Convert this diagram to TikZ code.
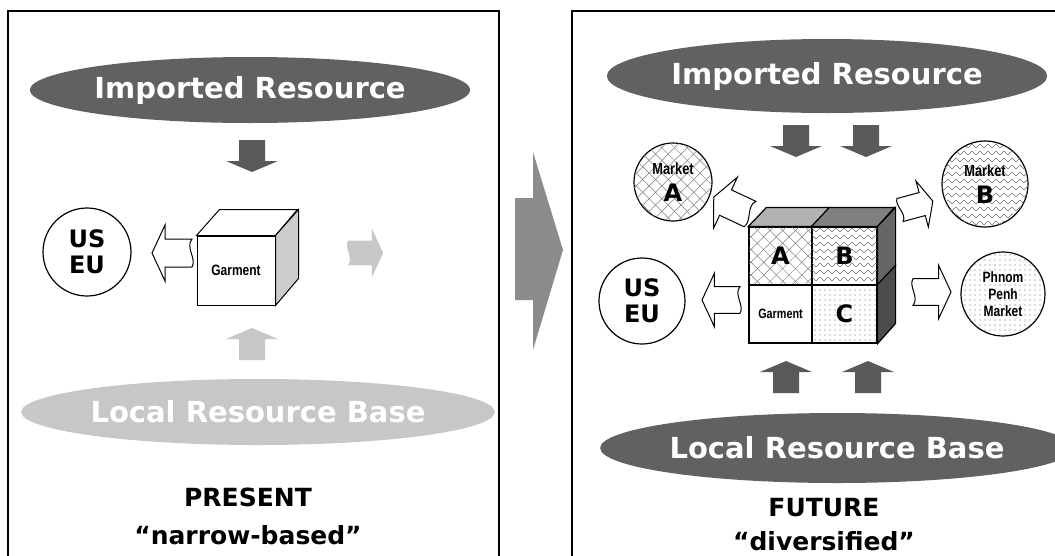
\documentclass[tikz,border=0pt]{standalone}
\usepackage{fontspec}
\setmainfont{DejaVu Sans}
\newfontfamily\condfont[FakeStretch=0.8]{Liberation Sans}
\usepackage{tikz}
\usetikzlibrary{positioning,shapes.geometric,patterns,patterns.meta}

\pgfdeclarepatternformonly{zigzag}{\pgfpoint{-1pt}{-1pt}}{\pgfpoint{9pt}{8pt}}{\pgfpoint{8pt}{7pt}}{
	\pgfsetlinewidth{0.6pt}
	\pgfpathmoveto{\pgfpoint{0pt}{1pt}}
	\pgfpathlineto{\pgfpoint{4pt}{5pt}}
	\pgfpathlineto{\pgfpoint{8pt}{1pt}}
	\pgfusepath{stroke}}

\begin{document}
\begin{tikzpicture}[%
	x=1pt, y=-1pt,
	node distance=38pt,
	panel/.style={line width=1.6pt},
	resource/.style={ellipse, fill=black!62, text=white, inner sep=0pt,
		font=\bfseries\fontsize{29}{31}\selectfont},
	faded/.style={fill=black!22},
	market/.style={circle, draw, line width=1.2pt, inner sep=0pt, align=center},
	bigtext/.style={font=\bfseries\fontsize{24}{26}\selectfont},
	smalltext/.style={font=\condfont\bfseries\fontsize{15}{17}\selectfont},
	caption/.style={font=\bfseries\fontsize{25}{27}\selectfont},
	cell/.style={draw, line width=1.2pt, inner sep=0pt, minimum width=63pt, minimum height=58pt},
	diamonds/.style={postaction={pattern={Lines[angle=45,distance=9pt,line width=.5pt]}, pattern color=black!50},
		postaction={pattern={Lines[angle=-45,distance=9pt,line width=.5pt]}, pattern color=black!50}},
	zigzags/.style={postaction={pattern=zigzag, pattern color=black!55}},
	speckled/.style={postaction={pattern={Dots[distance=5pt,radius=.7pt]}, pattern color=black!60}},
	blockarrow/.pic={\path[pic actions] (0,-13) -- (21,-13) -- (21,-26) -- (32,0) -- (21,26) -- (21,13) -- (0,13) -- cycle;},
	notcharrow/.pic={\path[pic actions] (0,-14) -- (27,-14) -- (27,-28) -- (40,0) -- (27,28) -- (27,14) -- (0,14)
		.. controls (7,6) and (-5,-6) .. (0,-14) -- cycle;}
	]
	\useasboundingbox (0,0) rectangle (1055,555);
	
	% the two panels
	\draw[panel] (8,556) -- (8,11) -- (499,11) -- (499,556);
	\draw[panel] (572,556) -- (572,11) -- (1060,11);
	
	% present
	\node[resource, minimum width=395pt, minimum height=66pt] (importL) at (250,90) {Imported Resource};
	\pic[fill=black!65, rotate=-90] at (252,140) {blockarrow};
	
	\node[market, minimum size=88pt, bigtext] (useuL) at (87,252) {US\\EU};
	\node[draw, line width=1pt, minimum width=78pt, minimum height=69pt, inner sep=0pt,
		font=\condfont\bfseries\fontsize{15}{17}\selectfont] (garmentL) at (236,270.5) {Garment};
	\draw[line width=1pt, fill=white] (garmentL.north west) -- ++(23,-26) -- ++(78,0) -- (garmentL.north east) -- cycle;
	\draw[line width=1pt, fill=black!20] (garmentL.north east) -- ++(23,-26) -- ++(0,69) -- (garmentL.south east) -- cycle;
	
	\pic[draw, line width=1pt, fill=white, rotate=180] at (192,253) {notcharrow};
	\pic[faded, scale=.88] at (348,253) {notcharrow};
	\pic[faded, rotate=90] at (252,360) {blockarrow};
	
	\node[resource, faded, minimum width=393pt, minimum height=66pt] (localL) at (258,412) {Local Resource Base};
	\node[caption] (present) at (248,497) {PRESENT};
	\node[caption, below of=present] (narrow) {“narrow-based”};
	
	% from now to then
	\fill[black!45] (515,198) -- (533,198) -- (533,152) -- (563,250) -- (533,350) -- (533,300) -- (515,300) -- cycle;
	
	% future
	\node[resource, minimum width=395pt, minimum height=74pt] (importR) at (827,76) {Imported Resource};
	\pic[fill=black!65, rotate=-90] at (796,125) {blockarrow};
	\pic[fill=black!65, rotate=-90] at (866,125) {blockarrow};
	
	\node[market, minimum size=78pt, fill=white, diamonds] (marketA) at (673,182)
		{{\condfont\bfseries\fontsize{16}{18}\selectfont Market}\\[8pt]{\bfseries\fontsize{24}{24}\selectfont A}};
	\node[market, minimum size=86pt, fill=white, zigzags] (marketB) at (985,184)
		{{\condfont\bfseries\fontsize{16}{18}\selectfont Market}\\[8pt]{\bfseries\fontsize{24}{24}\selectfont B}};
	\node[market, minimum size=84pt, fill=white, speckled, smalltext] (phnom) at (1003,294) {Phnom\\Penh\\Market};
	\node[market, minimum size=86pt, bigtext] (useuR) at (642,301) {US\\EU};
	
	\node[cell, fill=white, diamonds, bigtext] (cellA) at (780.5,256) {A};
	\node[cell, fill=white, zigzags, bigtext, minimum width=65pt] (cellB) at (844.5,256) {B};
	\node[cell, fill=white, font=\condfont\bfseries\fontsize{13.5}{15}\selectfont] (cellG) at (780.5,314) {Garment};
	\node[cell, fill=white, speckled, bigtext, minimum width=65pt] (cellC) at (844.5,314) {C};
	\draw[line width=1.2pt, fill=black!30] (cellA.north west) -- ++(18,-19) -- ++(63,0) -- (cellA.north east) -- cycle;
	\draw[line width=1.2pt, fill=black!50] (cellB.north west) -- ++(18,-19) -- ++(65,0) -- (cellB.north east) -- cycle;
	\draw[line width=1.2pt, fill=black!60] (cellB.north east) -- ++(18,-19) -- ++(0,58) -- (cellB.south east) -- cycle;
	\draw[line width=1.2pt, fill=black!70] (cellC.north east) -- ++(18,-19) -- ++(0,58) -- (cellC.south east) -- cycle;
	
	\pic[draw, line width=1pt, fill=white, diamonds, rotate=155] at (750,214) {notcharrow};
	\pic[draw, line width=1pt, fill=white, zigzags, rotate=15, scale=.85] at (900,210) {notcharrow};
	\pic[draw, line width=1pt, fill=white, rotate=180, scale=.95] at (740,300) {notcharrow};
	\pic[draw, line width=1pt, fill=white, speckled, scale=.95] at (913,292) {notcharrow};
	\pic[fill=black!65, rotate=90] at (786,393) {blockarrow};
	\pic[fill=black!65, rotate=90] at (868,393) {blockarrow};
	
	\node[resource, minimum width=394pt, minimum height=70pt] (localR) at (837,448) {Local Resource Base};
	\node[caption] (future) at (824,508) {FUTURE};
	\node[caption, below of=future, node distance=33pt] (divers) {“diversified”};
\end{tikzpicture}
\end{document}
